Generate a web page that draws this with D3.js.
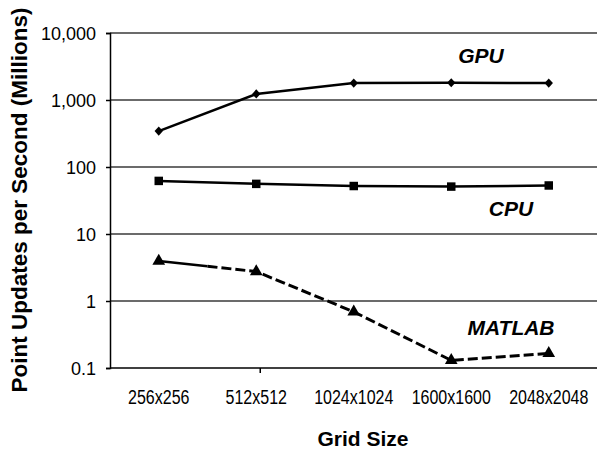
<!DOCTYPE html>
<html>
<head>
<meta charset="utf-8">
<script src="https://cdn.jsdelivr.net/npm/d3@7"></script>
<style>
  body { margin: 0; background: #fff; }
  text { font-family: "Liberation Sans", Arial, sans-serif; fill: #000; }
</style>
</head>
<body>
<div id="chart"></div>
<script>
// grid sizes on the category axis
var grid_sizes = ["256x256", "512x512", "1024x1024", "1600x1600", "2048x2048"];
// point updates per second, millions
var gpu_vals = [344, 1230, 1790, 1810, 1790];
var cpu_vals = [62, 56, 52, 51, 53];
var matlab_vals = [3.95, 2.75, 0.69, 0.13, 0.165];
var y_ticks = [0.1, 1, 10, 100, 1000, 10000];

var width = 597, height = 449;
var margin = {top: 33, right: 0, bottom: 81, left: 110};

var svg = d3.select('#chart').append('svg')
    .attr('width', width)
    .attr('height', height);

var x = d3.scalePoint()
    .domain(grid_sizes)
    .range([margin.left, 597.5])
    .padding(0.5);

var y = d3.scaleLog()
    .domain([0.1, 10000])
    .range([height - margin.bottom, margin.top]);

var fmt = d3.format(",");
function tickFmt(d) { return d < 1 ? "0.1" : fmt(d); }

// gridlines
svg.append('g').selectAll('line')
    .data(y_ticks.slice(1))
    .enter().append('line')
    .attr('x1', margin.left)
    .attr('x2', width)
    .attr('y1', function(d) { return y(d); })
    .attr('y2', function(d) { return y(d); })
    .attr('stroke', '#3a3a3a')
    .attr('stroke-width', 1.5);

// y axis
var yAxis = d3.axisLeft(y)
    .tickValues(y_ticks)
    .tickFormat(tickFmt)
    .tickSize(4)
    .tickPadding(10);

var yg = svg.append('g')
    .attr('transform', 'translate(' + margin.left + ',0)')
    .call(yAxis);
yg.select('.domain').attr('stroke', '#000').attr('stroke-width', 1.5);
yg.selectAll('.tick line').attr('stroke', '#000').attr('stroke-width', 1.5);
yg.selectAll('.tick text')
    .style('font-size', '18px')
    .style('font-family', '"Liberation Sans", Arial, sans-serif')
    .attr('dy', '0.36em');

// x axis line
var y0 = y(0.1);
svg.append('line')
    .attr('x1', margin.left).attr('x2', width)
    .attr('y1', y0).attr('y2', y0)
    .attr('stroke', '#000').attr('stroke-width', 1.5);
svg.append('line')
    .attr('x1', x(grid_sizes[1]) + 4).attr('x2', x(grid_sizes[1]) + 4)
    .attr('y1', y0).attr('y2', y0 + 5)
    .attr('stroke', '#000').attr('stroke-width', 1.5);

// x tick labels (narrow face)
svg.append('g').selectAll('text')
    .data(grid_sizes)
    .enter().append('text')
    .attr('transform', function(d) { return 'translate(' + x(d) + ',404) scale(0.8,1)'; })
    .attr('text-anchor', 'middle')
    .style('font-size', '20px')
    .text(function(d) { return d; });

// axis titles
svg.append('text')
    .attr('x', 363)
    .attr('y', 446)
    .attr('text-anchor', 'middle')
    .style('font-size', '21px')
    .style('font-weight', 'bold')
    .text('Grid Size');

svg.append('text')
    .attr('transform', 'translate(27,200) rotate(-90)')
    .attr('text-anchor', 'middle')
    .style('font-size', '22.5px')
    .style('font-weight', 'bold')
    .text('Point Updates per Second (Millions)');

var line = d3.line()
    .x(function(d, i) { return x(grid_sizes[i]); })
    .y(function(d) { return y(d); });

function draw_series(vals, dashed) {
    if (!dashed) {
        svg.append('path')
            .datum(vals)
            .attr('fill', 'none')
            .attr('stroke', '#000')
            .attr('stroke-width', 2.5)
            .attr('d', line);
        return;
    }
    // first half of first segment solid, rest dashed
    var x0 = x(grid_sizes[0]), x1 = x(grid_sizes[1]);
    var ya = y(vals[0]), yb = y(vals[1]);
    var mx = (x0 + x1) / 2, my = (ya + yb) / 2;
    svg.append('path')
        .attr('fill', 'none')
        .attr('stroke', '#000')
        .attr('stroke-width', 2.5)
        .attr('d', 'M' + x0 + ',' + ya + 'L' + mx + ',' + my);
    var pts = [[mx, my]];
    for (var i = 1; i < vals.length; i++) pts.push([x(grid_sizes[i]), y(vals[i])]);
    svg.append('path')
        .attr('fill', 'none')
        .attr('stroke', '#000')
        .attr('stroke-width', 3)
        .attr('stroke-dasharray', '10,4')
        .attr('d', d3.line()(pts));
}

draw_series(gpu_vals, false);
draw_series(cpu_vals, false);
draw_series(matlab_vals, true);

function draw_markers(vals, symbolType, size) {
    svg.append('g').selectAll('path')
        .data(vals)
        .enter().append('path')
        .attr('transform', function(d, i) { return 'translate(' + x(grid_sizes[i]) + ',' + y(d) + ')'; })
        .attr('d', d3.symbol().type(symbolType).size(size))
        .attr('fill', '#000');
}

var diamond = {
    draw: function(ctx, s) {
        var r = Math.sqrt(s) / 2;
        ctx.moveTo(0, -r * 1.1);
        ctx.lineTo(r, 0);
        ctx.lineTo(0, r * 1.1);
        ctx.lineTo(-r, 0);
        ctx.closePath();
    }
};

draw_markers(gpu_vals, diamond, 70);
draw_markers(cpu_vals, d3.symbolSquare, 72);
draw_markers(matlab_vals, d3.symbolTriangle, 70);

// series labels
var labels = [
    {name: 'GPU', x: 481, y: 63},
    {name: 'CPU', x: 511, y: 216},
    {name: 'MATLAB', x: 511, y: 335}
];
svg.append('g').selectAll('text')
    .data(labels)
    .enter().append('text')
    .attr('x', function(d) { return d.x; })
    .attr('y', function(d) { return d.y; })
    .attr('text-anchor', 'middle')
    .style('font-size', '21px')
    .style('font-weight', 'bold')
    .style('font-style', 'italic')
    .text(function(d) { return d.name; });
</script>
</body>
</html>
